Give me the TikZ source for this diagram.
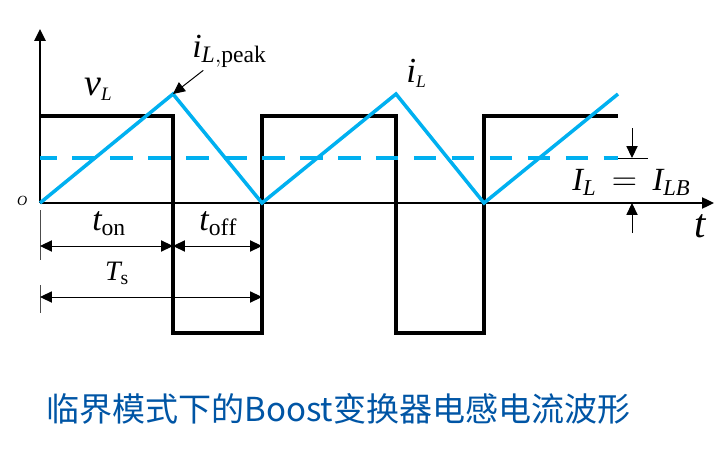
\documentclass[tikz,border=0pt]{standalone}
\usepackage{fontspec}
\setmainfont{Liberation Serif}
\newfontfamily\cjk{Noto Sans CJK SC}
\usetikzlibrary{arrows.meta}
\definecolor{celeste}{RGB}{0,176,240}
\definecolor{azultitulo}{RGB}{0,85,165}

\begin{document}
\begin{tikzpicture}[
    flecha/.style={-{Triangle[length=8.5pt,width=8pt]}},
    cota/.style={line width=0.7pt,{Triangle[length=8.5pt,width=8pt]}-{Triangle[length=8.5pt,width=8pt]}},
    onda/.style={line width=2.5pt},
    corriente/.style={line width=2.5pt, celeste},
    etiqueta/.style={inner sep=0pt, anchor=base west}
]
            \useasboundingbox (-1,5.075) rectangle (17.15,-6.525);

            \draw[line width=1pt, flecha] (0,0) -- (16.85,0);
            \draw[line width=1.2pt, flecha] (0,0) -- (0,4.35);
            \node[etiqueta, font=\fontsize{10}{12}\selectfont] (origen) at (-0.58,-0.05) {$\mathit{O}$};

            % tension en la bobina
            \draw[onda] (0,2.175) -- (3.325,2.175) -- (3.325,-3.25) -- (5.55,-3.25)
                -- (5.55,2.175) -- (8.9,2.175) -- (8.9,-3.25) -- (11.1,-3.25)
                -- (11.1,2.175) -- (14.45,2.175);

            % corriente en la bobina
            \coordinate (pico) at (3.325,2.725);
            \draw[corriente] (0,0) -- (pico) -- (5.55,0) -- (8.9,2.725) -- (11.1,0) -- (14.45,2.725);
            \draw[corriente, dash pattern=on 16pt off 11pt, dash phase=4pt] (0,1.125) -- (14.45,1.125);

            \node[etiqueta, font=\fontsize{27}{30}\selectfont] (vL) at (1.1,2.7) {$\mathit{v}_{\scriptscriptstyle\mathit{L}}$};
            \node[etiqueta, font=\fontsize{24}{26}\selectfont] (ipico) at (3.8,3.65) {$\mathit{i}_{\mathit{L}{,}\mathrm{peak}}$};
            \draw[line width=0.7pt, flecha] ([xshift=8pt,yshift=-2pt]ipico.south west) -- (pico);
            \node[etiqueta, font=\fontsize{25}{28}\selectfont] (iL) at (9.15,3.025) {$\mathit{i}_{\scriptscriptstyle\mathit{L}}$};

            \draw[line width=0.7pt] (14.45,1.125) -- (15.2,1.125);
            \draw[line width=0.7pt, flecha] (14.8,1.875) -- (14.8,1.125);
            \draw[line width=0.7pt, flecha] (14.8,-0.75) -- (14.8,0);
            \node[etiqueta, font=\fontsize{23}{26}\selectfont] (IL) at (13.3,0.325) {$\mathit{I}_{\mathit{L}} \,=\, \mathit{I}_{\mathit{LB}}$};
            \node[etiqueta, font=\fontsize{29}{32}\selectfont] (t) at (16.35,-0.85) {$\mathit{t}$};

            \draw[line width=0.7pt, black!70] (0,-0.175) -- (0,-1.425);
            \draw[line width=0.7pt, black!70] (0,-2.05) -- (0,-2.75);
            \draw[cota] (0,-1.075) -- (3.325,-1.075);
            \draw[cota] (3.325,-1.075) -- (5.55,-1.075);
            \draw[cota] (0,-2.35) -- (5.55,-2.35);
            \node[etiqueta, font=\fontsize{24}{26}\selectfont] (ton) at (1.3,-0.675) {$\mathit{t}_{\mathrm{on}}$};
            \node[etiqueta, font=\fontsize{24}{26}\selectfont] (toff) at (3.98,-0.675) {$\mathit{t}_{\mathrm{off}}$};
            \node[etiqueta, font=\fontsize{20}{24}\selectfont] (Ts) at (1.62,-1.925) {$\mathit{T}_{\mathrm{s}}$};

            \node[font=\cjk\fontsize{23.5}{28}\selectfont, text=azultitulo] (titulo) at (7.46,-5.15) {临界模式下的Boost变换器电感电流波形};
\end{tikzpicture}
\end{document}
